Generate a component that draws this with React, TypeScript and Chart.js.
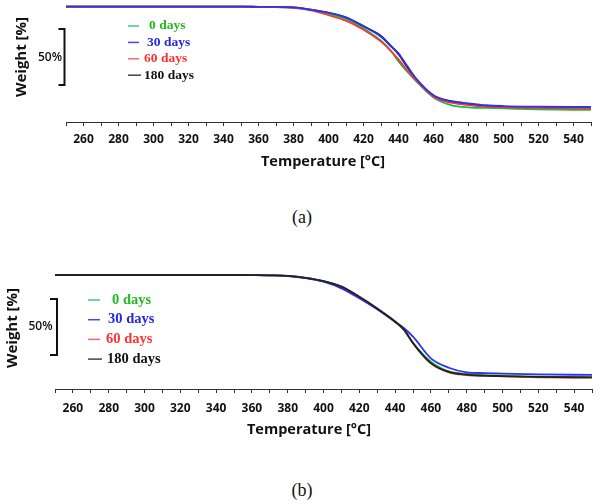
import { useEffect, useRef } from "react";
import { Chart, registerables } from "chart.js";

Chart.register(...registerables);

// temperature grid (°C) shared by every curve
const temps = [250, 300, 350, 360, 370, 380, 390, 400, 410, 420, 430, 435, 440, 445, 450, 460, 470, 480, 490, 500, 520, 550];

const seriesLabels = ["0 days", "30 days", "60 days", "180 days"];
const lineColors = ["#10c040", "#3030f0", "#ff3535", "#222222"];
const textColors = ["#22b822", "#2525e8", "#ff3030", "#111111"];
const markColors = ["#40cc70", "#4848ee", "#ff6666", "#444444"];

// panel (a) weight %
const a0Days = [100, 100, 100, 99.9, 99.7, 99.2, 97.3, 93.5, 89, 80.6, 69.7, 62, 51, 42, 33.6, 19, 12.2, 10.1, 9.6, 9.2, 8.3, 7.8];
const a30Days = [100, 100, 100, 99.9, 99.8, 99.4, 97.2, 94.6, 90.5, 82.7, 73.2, 65.8, 58.4, 47, 36, 21, 15.8, 13.7, 12, 11.3, 10.8, 10.5];
const a60Days = [100, 100, 100, 99.9, 99.6, 99, 96.8, 92.5, 87.5, 79.4, 68.8, 61.5, 53, 43, 34.5, 19.6, 14.3, 12.2, 10.8, 10.2, 9.6, 9.1];
const a180Days = [100, 100, 100, 99.9, 99.8, 99.4, 97.4, 94.4, 90.2, 82.4, 73.8, 66, 57.5, 46, 35, 20.5, 15, 12.6, 11, 10.3, 9.8, 9.4];

// panel (b) weight %
const b0Days = [100, 100, 100, 99.9, 99.7, 99.2, 97.5, 94.5, 89.4, 80, 69.6, 63.8, 58, 51, 39.5, 22.6, 13.9, 11.6, 10.6, 10.2, 9.2, 8.8];
const b30Days = [100, 100, 100, 99.9, 99.7, 99.1, 97.3, 94, 88.1, 79.2, 69.4, 64, 58.3, 52.4, 45, 25.6, 17.2, 13.1, 12.4, 12, 11.2, 10.8];
const b60Days = [100, 100, 100, 99.9, 99.7, 99.2, 97.5, 94.6, 89.6, 80.6, 70.2, 64.3, 58.3, 51, 39, 21.1, 13.1, 10.7, 9.9, 9.5, 8.7, 8.4];
const b180Days = [100, 100, 100, 99.9, 99.7, 99.2, 97.5, 94.6, 89.6, 80.6, 70.2, 64.5, 58.5, 51.2, 39.2, 21.3, 13.4, 11, 10.1, 9.7, 9, 8.6];

// x axis: minor tick every 10 °C, label every 20 °C
const xMin = 250;
const xMax = 550;
const xStep = 10;
const xLabelEvery = 20;

// the "50%" scale bar on each panel (weight %)
const scaleBarA = [30, 80];
const scaleBarB = [28.6, 78.6];

const sans = "'Open Sans', 'Noto Sans', sans-serif";
const serif = "'Liberation Serif', 'Times New Roman', serif";

type Decor = {
  weightX: number;
  weightY: number;
  fiftyX: number;
  barX: number;
  barTick: number;
  bar: number[];
  legendY: number;
  rowGap: number;
  markX: number;
  markLen: number[];
  textX: number[];
  legendSize: number;
  titleX: number;
  titleY: number;
};

const decorPlugin = {
  id: "decor",
  afterDraw(chart: any, _args: any, opts: Decor) {
    const { ctx } = chart;
    const y = chart.scales.y;
    ctx.save();

    // y axis title
    ctx.fillStyle = "#111";
    ctx.font = `bold 15px ${sans}`;
    ctx.textAlign = "center";
    ctx.textBaseline = "middle";
    ctx.save();
    ctx.translate(opts.weightX, opts.weightY);
    ctx.rotate(-Math.PI / 2);
    ctx.fillText("Weight [%]", 0, 0);
    ctx.restore();

    // 50% bracket
    const top = y.getPixelForValue(opts.bar[1]);
    const bottom = y.getPixelForValue(opts.bar[0]);
    ctx.strokeStyle = "#111";
    ctx.lineWidth = 2;
    ctx.beginPath();
    ctx.moveTo(opts.barX - opts.barTick, top);
    ctx.lineTo(opts.barX, top);
    ctx.lineTo(opts.barX, bottom);
    ctx.lineTo(opts.barX - opts.barTick, bottom);
    ctx.stroke();
    ctx.font = `600 12px ${sans}`;
    ctx.fillText("50%", opts.fiftyX, (top + bottom) / 2);

    // legend
    ctx.textAlign = "left";
    ctx.font = `bold ${opts.legendSize}px ${serif}`;
    chart.data.datasets.forEach((ds: any, i: number) => {
      const ry = opts.legendY + i * opts.rowGap;
      ctx.strokeStyle = markColors[i];
      ctx.lineWidth = 1.5;
      ctx.beginPath();
      ctx.moveTo(opts.markX, ry);
      ctx.lineTo(opts.markX + opts.markLen[i], ry);
      ctx.stroke();
      ctx.fillStyle = textColors[i];
      ctx.fillText(ds.label, opts.textX[i], ry);
    });

    // x axis title
    ctx.fillStyle = "#111";
    ctx.textAlign = "center";
    ctx.font = `bold 14.5px ${sans}`;
    ctx.fillText("Temperature [°C]", opts.titleX, opts.titleY);
    ctx.restore();
  }
};

type PanelProps = {
  top: number;
  height: number;
  series: number[][];
  order: number[];
  yMin: number;
  yMax: number;
  padding: { left: number; right: number; top: number; bottom: number };
  tickPad: number;
  decor: Decor;
};

function Panel({ top, height, series, order, yMin, yMax, padding, tickPad, decor }: PanelProps) {
  const canvasRef = useRef<HTMLCanvasElement | null>(null);

  useEffect(() => {
    const canvas = canvasRef.current;
    if (!canvas) return;

    const chart = new Chart(canvas, {
      type: "line",
      data: {
        datasets: series.map((values, i) => ({
          label: seriesLabels[i],
          data: values.map((v, j) => ({ x: temps[j], y: v })),
          borderColor: lineColors[i],
          borderWidth: 1.8,
          pointRadius: 0,
          cubicInterpolationMode: "monotone" as const,
          fill: false,
          order: order[i]
        }))
      },
      options: {
        responsive: false,
        animation: false,
        layout: { padding },
        plugins: {
          legend: { display: false },
          tooltip: { enabled: false },
          decor
        } as any,
        scales: {
          x: {
            type: "linear",
            min: xMin,
            max: xMax,
            afterFit: (scale: any) => {
              scale.height = 30;
            },
            afterBuildTicks: (scale: any) => {
              const ticks = [];
              for (let v = xMin; v <= xMax; v += xStep) ticks.push({ value: v });
              scale.ticks = ticks;
            },
            ticks: {
              autoSkip: false,
              maxRotation: 0,
              padding: tickPad,
              color: "#111",
              font: { family: sans, size: 12, weight: "bold" },
              callback: (v: any) => (v % xLabelEvery === 0 ? String(v) : "")
            },
            grid: {
              drawOnChartArea: false,
              drawTicks: true,
              tickLength: 4,
              color: "#333"
            },
            border: { display: true, color: "#333", width: 1 }
          },
          y: {
            display: false,
            min: yMin,
            max: yMax
          }
        }
      },
      plugins: [decorPlugin]
    });

    return () => chart.destroy();
  }, []);

  return (
    <canvas
      ref={canvasRef}
      width={600}
      height={height}
      style={{ position: "absolute", left: 0, top, width: 600, height }}
    />
  );
}

const captionStyle = {
  position: "absolute" as const,
  left: 0,
  width: 604,
  textAlign: "center" as const,
  fontFamily: serif,
  fontSize: 18,
  lineHeight: "20px",
  color: "#111"
};

export default function App() {
  return (
    <div style={{ position: "absolute", left: 0, top: 0, width: 600, height: 504, background: "#fff" }}>
      <Panel
        top={0}
        height={200}
        series={[a0Days, a30Days, a60Days, a180Days]}
        order={[2, 0, 1, 3]}
        yMin={-2.95}
        yMax={101.5}
        padding={{ left: 66, right: 9, top: 5, bottom: 48 }}
        tickPad={6}
        decor={{
          weightX: 22,
          weightY: 57,
          fiftyX: 50,
          barX: 64.5,
          barTick: 6,
          bar: scaleBarA,
          legendY: 26,
          rowGap: 16.4,
          markX: 128,
          markLen: [11, 11, 11, 13],
          textX: [149, 147, 144, 144],
          legendSize: 13.5,
          titleX: 323,
          titleY: 162
        }}
      />
      <div style={{ ...captionStyle, top: 207 }}>(a)</div>
      <Panel
        top={250}
        height={200}
        series={[b0Days, b30Days, b60Days, b180Days]}
        order={[2, 1, 3, 0]}
        yMin={-1.8}
        yMax={101.8}
        padding={{ left: 55, right: 5, top: 23, bottom: 31 }}
        tickPad={8}
        decor={{
          weightX: 13,
          weightY: 78,
          fiftyX: 40.5,
          barX: 57,
          barTick: 7,
          bar: scaleBarB,
          legendY: 50,
          rowGap: 19.7,
          markX: 88,
          markLen: [12, 12, 12, 14],
          textX: [112, 108, 106, 107],
          legendSize: 14.5,
          titleX: 309,
          titleY: 180
        }}
      />
      <div style={{ ...captionStyle, top: 480 }}>(b)</div>
    </div>
  );
}
